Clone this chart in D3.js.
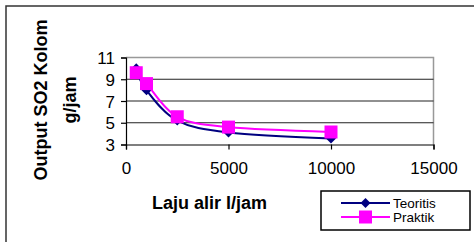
<!DOCTYPE html>
<html>
<head>
<meta charset="utf-8">
<script src="https://cdn.jsdelivr.net/npm/d3@7"></script>
<style>
  body { margin: 0; background: #fff; }
  text { font-family: "Liberation Sans", Arial, sans-serif; }
</style>
</head>
<body>
<div id="chart"></div>
<script>
// data
let flowRates = [500, 1000, 2500, 5000, 10000];
let teoritis  = [10.0, 8.0, 5.2, 4.1, 3.55];
let praktik   = [9.6, 8.6, 5.55, 4.6, 4.15];
let xTicks = [0, 5000, 10000, 15000];
let yTicks = [3, 5, 7, 9, 11];
let seriesNames = ["Teoritis", "Praktik"];
let seriesColors = ["#000080", "#ff00ff"];

let width = 474, height = 242;
let plot = { left: 126, right: 433.5, top: 57.5, bottom: 144.5 };

let xScale = d3.scaleLinear().domain([0, 15000]).range([plot.left, plot.right]);
let yScale = d3.scaleLinear().domain([3, 11]).range([plot.bottom, plot.top]);

let svg = d3.select("#chart").append("svg")
  .attr("width", width)
  .attr("height", height);

// outer frame (runs off the right and bottom edge like the cropped original)
svg.append("rect")
  .attr("x", 6).attr("y", 6)
  .attr("width", width + 10).attr("height", height + 10)
  .attr("fill", "none")
  .attr("stroke", "#333")
  .attr("stroke-width", 1.5);

// plot area border: grey top & right
svg.append("path")
  .attr("d", d3.line()([[plot.left, plot.top], [plot.right, plot.top], [plot.right, plot.bottom]]))
  .attr("fill", "none")
  .attr("stroke", "#999")
  .attr("stroke-width", 1.5);

// horizontal gridlines
svg.append("g").selectAll("line")
  .data(yTicks.filter(d => d > 3 && d < 11))
  .enter().append("line")
  .attr("x1", plot.left).attr("x2", plot.right)
  .attr("y1", d => yScale(d)).attr("y2", d => yScale(d))
  .attr("stroke", "#222")
  .attr("stroke-width", 1.2);

// axes
let xAxis = d3.axisBottom(xScale).tickValues(xTicks).tickSize(5).tickPadding(12).tickFormat(d3.format("d"));
let yAxis = d3.axisLeft(yScale).tickValues(yTicks).tickSize(5).tickPadding(6).tickFormat(d3.format("d"));

let gx = svg.append("g")
  .attr("transform", "translate(0," + plot.bottom + ")")
  .call(xAxis);
let gy = svg.append("g")
  .attr("transform", "translate(" + plot.left + ",0)")
  .call(yAxis);

[gx, gy].forEach(function(g) {
  g.select(".domain").attr("stroke", "#000").attr("stroke-width", 1.2);
  g.selectAll(".tick line").attr("stroke", "#000").attr("stroke-width", 1.2);
  g.selectAll(".tick text")
    .attr("fill", "#000")
    .style("font-family", "'Liberation Sans', Arial, sans-serif")
    .style("font-size", "17px");
});
gy.selectAll(".tick text").attr("dy", "0.36em");

// axis titles
svg.append("text")
  .attr("x", 209.5).attr("y", 209)
  .attr("text-anchor", "middle")
  .style("font-size", "18px").style("font-weight", "bold")
  .text("Laju alir l/jam");

let yTitle = svg.append("text")
  .attr("transform", "translate(47,100) rotate(-90)")
  .attr("text-anchor", "middle")
  .style("font-size", "18px").style("font-weight", "bold");
yTitle.append("tspan").attr("x", 0).attr("y", 0).text("Output SO2 Kolom");
yTitle.append("tspan").attr("x", 0).attr("y", 29).text("g/jam");

// series
let line = d3.line()
  .x(d => xScale(d[0]))
  .y(d => yScale(d[1]))
  .curve(d3.curveCardinal.tension(0));

let diamond = d3.symbol().type(d3.symbolDiamond2).size(64);

function drawMarker(g, kind, x, y, color) {
  if (kind === 0) {
    g.append("path")
      .attr("d", diamond())
      .attr("transform", "translate(" + x + "," + y + ")")
      .attr("fill", color);
  } else {
    g.append("rect")
      .attr("x", x - 6.5).attr("y", y - 6.5)
      .attr("width", 13).attr("height", 13)
      .attr("fill", color);
  }
}

[teoritis, praktik].forEach(function(values, i) {
  let pts = flowRates.map((f, j) => [f, values[j]]);
  let g = svg.append("g");
  g.append("path")
    .attr("d", line(pts))
    .attr("fill", "none")
    .attr("stroke", seriesColors[i])
    .attr("stroke-width", 2);
  pts.forEach(p => drawMarker(g, i, xScale(p[0]), yScale(p[1]), seriesColors[i]));
});

// legend
let legend = svg.append("g");
legend.append("rect")
  .attr("x", 321).attr("y", 191)
  .attr("width", 149).attr("height", 39)
  .attr("fill", "#fff")
  .attr("stroke", "#000")
  .attr("stroke-width", 1.5);

seriesNames.forEach(function(name, i) {
  let y = 203 + i * 14;
  legend.append("line")
    .attr("x1", 341).attr("x2", 390)
    .attr("y1", y).attr("y2", y)
    .attr("stroke", seriesColors[i])
    .attr("stroke-width", 2);
  drawMarker(legend, i, 365.5, y, seriesColors[i]);
  legend.append("text")
    .attr("x", 393).attr("y", y + 5)
    .style("font-size", "13.5px")
    .text(name);
});
</script>
</body>
</html>
